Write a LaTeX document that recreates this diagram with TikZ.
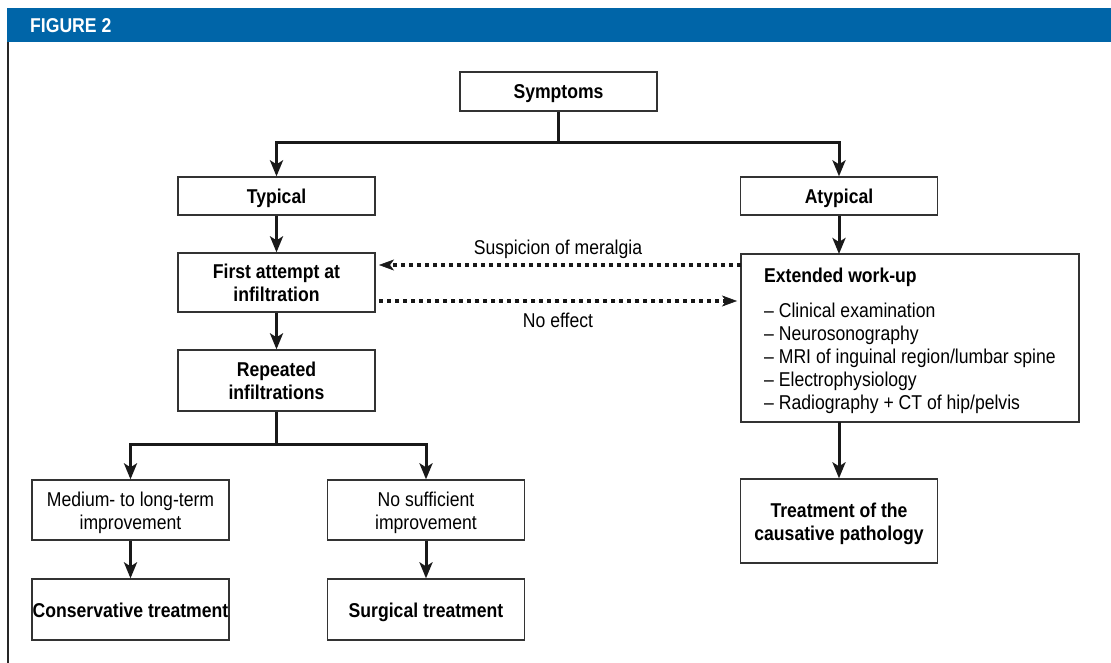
\documentclass[tikz,border=0pt]{standalone}
\usepackage{fontspec}
\setmainfont{Liberation Sans}[FakeStretch=0.88]
\usetikzlibrary{arrows.meta}
\definecolor{hdrblue}{HTML}{0065A8}
\definecolor{boxline}{HTML}{333333}
\newcommand\topstrut{\rule{0pt}{20pt}}
\newcommand\botstrut{\rule[-5pt]{0pt}{5pt}}
\tikzset{
  box/.style={draw=boxline, line width=1.3pt, minimum width=197pt, align=center, inner sep=0pt, font=\fontsize{20}{23}\selectfont},
  bbox/.style={box, font=\fontsize{20}{23}\selectfont\bfseries},
  flow/.style={line width=3pt, draw=black!90, -{Stealth[length=16pt, width=13pt, inset=4pt]}},
  trunk/.style={line width=3pt, draw=black!90},
  dots/.style={line width=3.5pt, draw=black!90, dash pattern=on 4pt off 4pt, -{Stealth[length=15pt, width=11pt, inset=4pt, line width=0.5pt]}},
  lbl/.style={font=\fontsize{20}{23}\selectfont, inner sep=0pt}
}
\begin{document}
\begin{tikzpicture}[x=1pt, y=-1pt]
\useasboundingbox (0,0) rectangle (1111,663);
% header
\fill[hdrblue] (7,8) rectangle (1111,42);
\node[anchor=west, text=white, font=\fontsize{20}{20}\selectfont\bfseries, inner sep=0pt] (hdr) at (30,26) {FIGURE 2};
\draw[line width=2pt, black!85] (8,42) -- (8,663);

% boxes
\node[bbox, minimum height=39pt] (sym) at (558.5,91.5) {\topstrut Symptoms\botstrut};
\node[bbox, minimum height=38pt] (typ) at (276.5,196) {\topstrut Typical\botstrut};
\node[bbox, minimum height=38pt] (atyp) at (839,196) {\topstrut Atypical\botstrut};
\node[bbox, minimum height=59pt] (first) at (276.5,282.5) {\topstrut First attempt at\\infiltration\botstrut};
\node[bbox, minimum height=61pt] (rep) at (276.5,380.5) {\topstrut Repeated\\infiltrations\botstrut};
\node[box, minimum height=60pt] (med) at (130.5,510) {\topstrut Medium- to long-term\\improvement\botstrut};
\node[box, minimum height=60pt] (nos) at (426,510) {\topstrut No sufficient\\improvement\botstrut};
\node[bbox, minimum height=61pt] (cons) at (130.5,609.5) {\topstrut Conservative treatment\botstrut};
\node[bbox, minimum height=61pt] (surg) at (426,609.5) {\topstrut Surgical treatment\botstrut};
\node[bbox, minimum height=84pt] (treat) at (839,521) {\topstrut Treatment of the\\causative pathology\botstrut};
\draw[draw=boxline, line width=1.3pt] (741,254) rectangle (1079,422);
\coordinate (extn) at (839,254);
\coordinate (exts) at (839,422);
\node[anchor=north west, inner sep=0pt, align=left, font=\fontsize{20}{23}\selectfont] (exttxt) at (764,268)
{\textbf{Extended work-up}\\[12pt]
– Clinical examination\\
– Neurosonography\\
– MRI of inguinal region/lumbar spine\\
– Electrophysiology\\
– Radiography + CT of hip/pelvis};

% connectors
\coordinate (j1) at (558.5,143);
\coordinate (j2) at (276.5,444);
\draw[trunk] (sym.south) -- (j1);
\draw[flow] (j1) -| (typ.north);
\draw[flow] (j1) -| (atyp.north);
\draw[flow] (typ) -- (first);
\draw[flow] (atyp) -- (extn);
\draw[flow] (first) -- (rep);
\draw[trunk] (rep.south) -- (j2);
\draw[flow] (j2) -| (med.north);
\draw[flow] (j2) -| (nos.north);
\draw[flow] (med) -- (cons);
\draw[flow] (nos) -- (surg);
\draw[flow] (exts) -- (treat.north);

% dotted
\coordinate (s1) at (741,265);
\coordinate (s2) at (379,265);
\coordinate (n1) at (379,301);
\coordinate (n2) at (737,301);
\draw[dots] (s1) -- (s2);
\draw[dots] (n1) -- (n2);
\node[lbl] (sus) at (558,249) {Suspicion of meralgia};
\node[lbl] (noe) at (558,320) {No effect};
\end{tikzpicture}
\end{document}
